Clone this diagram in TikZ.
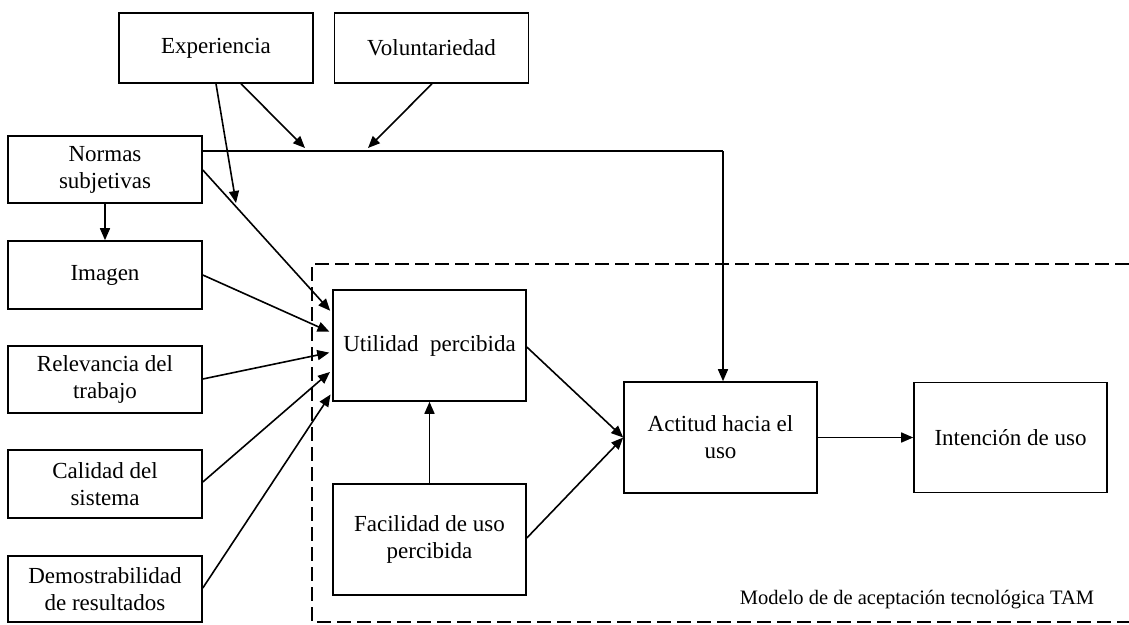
\documentclass[tikz,border=0pt]{standalone}
\usepackage{fontspec}
\setmainfont{Liberation Serif}
\usetikzlibrary{arrows.meta}

\begin{document}
\begin{tikzpicture}[x=1pt,y=-1pt,
  box/.style={draw, line width=1.6pt, minimum width=194pt, inner sep=0pt,
    align=center, font=\fontsize{23}{27}\selectfont},
  arr/.style={line width=1.6pt, -{Triangle[length=12pt,width=10pt]}},
  link/.style={line width=1.6pt},
  frame/.style={line width=1.6pt, dash pattern=on 14pt off 6pt}]
\useasboundingbox (0,0) rectangle (1129,624);

% external variables
\node[box, minimum height=70pt] (exp) at (216,48) {Experiencia};
\node[box, minimum height=70pt] (vol) at (431.5,48) {Voluntariedad};
\node[box, minimum height=67pt] (nor) at (105,169.5) {Normas\\subjetivas};
\node[box, minimum height=68pt] (ima) at (105,275) {Imagen};
\node[box, minimum height=67pt] (rel) at (105,379.5) {Relevancia del\\trabajo};
\node[box, minimum height=68pt] (cal) at (105,484) {Calidad del\\sistema};
\node[box, minimum height=66pt] (dem) at (105,589) {Demostrabilidad\\de resultados};

% TAM core
\node[box, minimum width=193pt, minimum height=111pt] (uti) at (429.5,345.5) {Utilidad\ \ percibida};
\node[box, minimum width=193pt, minimum height=111pt] (fac) at (429.5,539.5) {Facilidad de uso\\percibida};
\node[box, minimum width=193pt, minimum height=111pt] (act) at (720.5,437.5) {Actitud hacia el\\uso};
\node[box, minimum width=193pt, minimum height=110pt] (int) at (1010.5,437.5) {Intención de uso};

% model frame (open to the right)
\draw[frame] (1129,264) -- (312,264) -- (312,622) -- (1129,622);
\node[font=\fontsize{20.5}{24}\selectfont] (lbl) at (917,600) {Modelo de de aceptación tecnológica TAM};

% subjective norms route to attitude
\coordinate (jn) at (723,151);
\coordinate (ea) at (305,148);
\coordinate (va) at (368,148);
\coordinate (eb) at (236,203);
\draw[link] (nor.east |- jn) -- (jn);
\draw[arr] (jn) -- (act.north -| jn);
\draw[arr] (exp.south -| 241,0) -- (ea);
\draw[arr] (vol.south -| 432,0) -- (va);
\draw[arr] (exp.south -| 216,0) -- (eb);

% determinants of perceived usefulness
\begin{scope}[shorten >=3pt]
\draw[arr] (nor.east |- 0,170) -- (uti.west |- 0,313);
\draw[arr] (ima.east |- 0,275) -- (uti.west |- 0,333);
\draw[arr] (rel.east |- 0,379) -- (uti.west |- 0,352);
\draw[arr] (cal.east |- 0,482) -- (uti.west |- 0,370);
\draw[arr] (dem.east |- 0,588) -- (uti.west |- 0,392);
\end{scope}
\draw[arr] (nor.south) -- (ima.north);

% TAM relations
\draw[arr] (fac.north) -- (uti.south);
\draw[arr] (uti.east |- 0,347) -- (act.west);
\draw[arr] (fac.east |- 0,538) -- (act.west);
\draw[arr] (act.east) -- (int.west);
\end{tikzpicture}
\end{document}
